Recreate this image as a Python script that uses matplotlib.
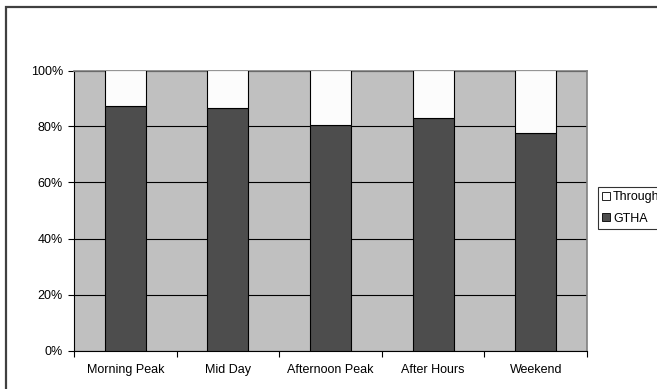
import matplotlib
matplotlib.use("Agg")
import matplotlib.pyplot as plt
from matplotlib.patches import Rectangle, Patch
import numpy as np

categories = ["Morning Peak", "Mid Day", "Afternoon Peak", "After Hours", "Weekend"]
gtha = [87.2, 86.5, 80.4, 82.9, 77.6]
through = [100 - v for v in gtha]
yticks = [0, 20, 40, 60, 80, 100]
ytick_labels = ["0%", "20%", "40%", "60%", "80%", "100%"]

plt.rcParams['font.family'] = ['Liberation Sans', 'DejaVu Sans']

fig = plt.figure(figsize=(6.57, 3.89), dpi=100)
W, H = 657, 389
ax = fig.add_axes([74 / W, 1 - 350.5 / H, (587 - 74) / W, (350.5 - 70.5) / H])
ax.set_facecolor("#c0c0c0")

x = np.arange(len(categories))
ax.bar(x, gtha, width=0.4, color="#4d4d4d", edgecolor="black", linewidth=0.8, zorder=3)
ax.bar(x, through, bottom=gtha, width=0.4, color="#fcfcfc", edgecolor="black", linewidth=0.8, zorder=3)

ax.set_xlim(-0.5, len(categories) - 0.5)
ax.set_ylim(0, 100)
ax.set_yticks(yticks)
ax.set_yticklabels(ytick_labels, fontsize=9)
ax.set_xticks(np.arange(len(categories) + 1) - 0.5, minor=False)
ax.set_xticklabels([""] * (len(categories) + 1))
ax.set_xticks(x, minor=True)
ax.set_xticklabels(categories, minor=True, fontsize=9)
ax.tick_params(axis='x', which='minor', length=0, pad=10)
ax.tick_params(axis='x', which='major', length=4, direction='out', width=0.8)
ax.tick_params(axis='y', length=4, direction='out', width=0.8, pad=4)
ax.yaxis.grid(True, color="black", linewidth=0.8, zorder=1)
ax.set_axisbelow(True)
for s in ["left", "bottom"]:
    ax.spines[s].set_color("black")
    ax.spines[s].set_linewidth(0.8)
for s in ["top", "right"]:
    ax.spines[s].set_color("#808080")
    ax.spines[s].set_linewidth(1.2)

handles = [Patch(facecolor="white", edgecolor="black", linewidth=0.6),
           Patch(facecolor="#4d4d4d", edgecolor="black", linewidth=0.6)]
leg = fig.legend(handles, ["Through", "GTHA"], loc="upper left",
                 bbox_to_anchor=(598 / W, 1 - 187 / H), fontsize=9,
                 frameon=True, fancybox=False, edgecolor="black",
                 handlelength=0.6, handleheight=0.6, handletextpad=0.25,
                 borderpad=0.35, labelspacing=0.75, borderaxespad=0)
leg.get_frame().set_linewidth(0.8)

fig.patches.append(Rectangle((5.5 / W, -0.1), 1.2, 1 - 6.5 / H + 0.1,
                             transform=fig.transFigure, fill=False,
                             edgecolor="#404040", linewidth=1.6))

fig.savefig("out.png", dpi=100)
